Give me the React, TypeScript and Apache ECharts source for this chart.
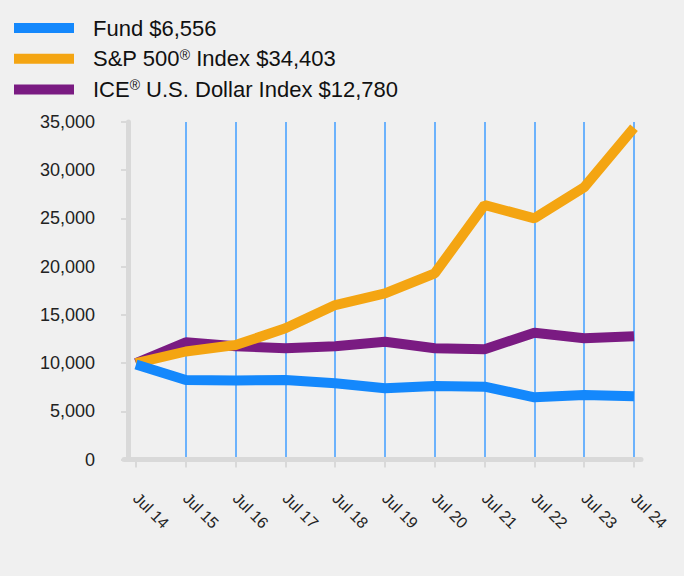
import React, { useEffect, useRef } from "react";
import * as echarts from "echarts";

const categories = ["Jul 14", "Jul 15", "Jul 16", "Jul 17", "Jul 18", "Jul 19", "Jul 20", "Jul 21", "Jul 22", "Jul 23", "Jul 24"];
const fundValues = [9850, 8244, 8190, 8244, 7900, 7383, 7622, 7550, 6450, 6690, 6556];
const sp500Values = [10000, 11200, 11870, 13605, 16020, 17235, 19310, 26390, 25010, 28230, 34403];
const iceValues = [10000, 12150, 11750, 11530, 11750, 12216, 11530, 11427, 13150, 12570, 12780];
const yTicks = { min: 0, max: 35000, interval: 5000 };

const FONT = 'Arial, "Liberation Sans", Helvetica, sans-serif';

export default function App() {
  const ref = useRef<HTMLDivElement>(null);
  useEffect(() => {
    if (!ref.current) return;
    const chart = echarts.init(ref.current, null, { renderer: "svg" });
    chart.setOption({
      animation: false,
      backgroundColor: "#f0f0f0",
      textStyle: { fontFamily: FONT },
      legend: {
        orient: "vertical",
        left: 9,
        top: 12,
        itemWidth: 60,
        itemHeight: 10,
        itemGap: 8.7,
        icon: "rect",
        data: ["Fund $6,556", "S&P 500{sup|®} Index $34,403", "ICE{sup|®} U.S. Dollar Index $12,780"],
        textStyle: {
          fontSize: 22,
          lineHeight: 22,
          color: "#111",
          fontFamily: FONT,
          padding: [0, 0, 0, 14],
          rich: {
            sup: { fontSize: 14, verticalAlign: "top", color: "#111", fontFamily: FONT, lineHeight: 22 },
          },
        },
        formatter: (name: string) => name,
      },
      grid: [
        { left: 136, right: 50, top: 122, bottom: 116.5 },
        { left: 124, right: 43, top: 122, bottom: 116.5 },
      ],
      xAxis: [
        {
          type: "category",
          gridIndex: 0,
          data: categories,
          boundaryGap: false,
          axisLine: { show: false },
          axisTick: { show: true, length: 8, lineStyle: { color: "#d9d9d9", width: 2 } },
          axisLabel: { rotate: -45, margin: 36, fontSize: 16, color: "#222", fontFamily: FONT, interval: 0 },
          splitLine: {
            show: true,
            interval: (index: number) => index !== 0,
            lineStyle: { color: "#6cb2fc", width: 2 },
          },
        },
        {
          type: "value",
          gridIndex: 1,
          min: 0,
          max: 1,
          axisLine: { show: true, onZero: false, lineStyle: { color: "#d9d9d9", width: 5 } },
          axisTick: { show: false },
          axisLabel: { show: false },
          splitLine: { show: false },
        },
      ],
      yAxis: [
        {
          type: "value",
          gridIndex: 0,
          min: yTicks.min,
          max: yTicks.max,
          interval: yTicks.interval,
          offset: 8,
          axisLine: { show: true, lineStyle: { color: "#d9d9d9", width: 5 } },
          axisTick: { show: true, length: 7, lineStyle: { color: "#d9d9d9", width: 2 } },
          axisLabel: {
            margin: 33,
            fontSize: 18,
            color: "#222",
            fontFamily: FONT,
            formatter: (v: number) => v.toLocaleString("en-US"),
          },
          splitLine: { show: false },
        },
        {
          type: "value",
          gridIndex: 1,
          min: 0,
          max: 1,
          show: false,
        },
      ],
      series: [
        {
          name: "ICE{sup|®} U.S. Dollar Index $12,780",
          type: "line",
          data: iceValues,
          showSymbol: false,
          symbol: "none",
          color: "#7a1b82",
          lineStyle: { width: 10, color: "#7a1b82" },
        },
        {
          name: "S&P 500{sup|®} Index $34,403",
          type: "line",
          data: sp500Values,
          showSymbol: false,
          symbol: "none",
          color: "#f4a512",
          lineStyle: { width: 10, color: "#f4a512" },
        },
        {
          name: "Fund $6,556",
          type: "line",
          data: fundValues,
          showSymbol: false,
          symbol: "none",
          color: "#1488fc",
          lineStyle: { width: 10, color: "#1488fc" },
        },
      ],
    });
    return () => chart.dispose();
  }, []);
  return <div ref={ref} style={{ position: "fixed", left: 0, top: 0, width: 684, height: 576 }} />;
}
